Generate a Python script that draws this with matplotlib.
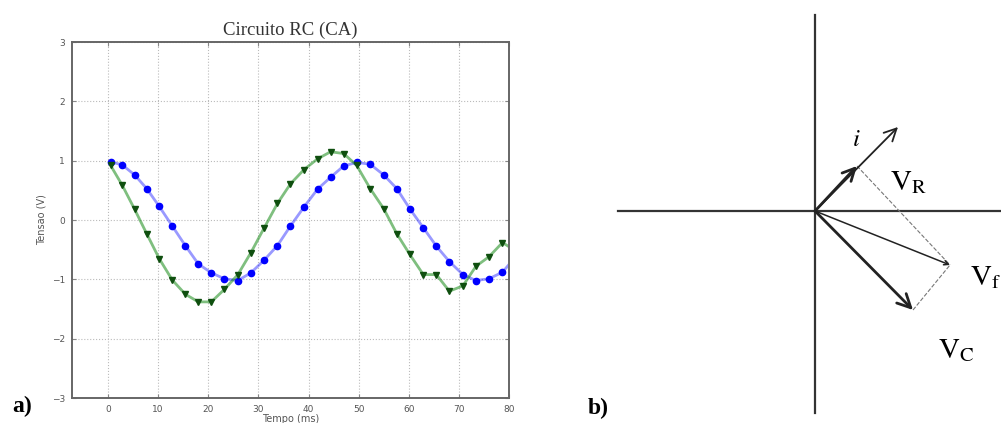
import matplotlib.pyplot as plt

plt.rcParams['mathtext.fontset'] = 'stix'

# sampled times (ms)
tempo = [0.5, 2.8, 5.3, 7.7, 10.2, 12.8, 15.4, 18.0, 20.6, 23.2, 25.9, 28.5, 31.1,
         33.8, 36.4, 39.1, 41.8, 44.4, 47.0, 49.6, 52.3, 55.0, 57.6, 60.2, 62.9,
         65.5, 68.1, 70.8, 73.4, 76.0, 78.7, 81.3]
# fonte voltage (circles)
v_azul = [0.98, 0.93, 0.76, 0.53, 0.23, -0.10, -0.43, -0.74, -0.89, -0.99, -1.02,
          -0.89, -0.68, -0.43, -0.10, 0.22, 0.52, 0.72, 0.91, 0.97, 0.94, 0.76,
          0.53, 0.19, -0.13, -0.44, -0.70, -0.92, -1.02, -0.99, -0.88, -0.62]
# capacitor voltage (triangles)
v_verde = [0.92, 0.59, 0.18, -0.23, -0.65, -1.01, -1.25, -1.38, -1.38, -1.17, -0.92,
           -0.55, -0.14, 0.28, 0.61, 0.85, 1.03, 1.15, 1.12, 0.92, 0.53, 0.19,
           -0.23, -0.58, -0.92, -0.92, -1.20, -1.11, -0.78, -0.62, -0.38, -0.52]

xticks = [0, 10, 20, 30, 40, 50, 60, 70, 80]
yticks = [-3, -2, -1, 0, 1, 2, 3]

# phasors (x, y) for the diagram
fasor_i = (0.83, 0.84)
fasor_vr = (0.42, 0.45)
fasor_vf = (1.35, -0.54)
fasor_vc = (0.98, -0.99)

fig = plt.figure(figsize=(10.01, 4.23), dpi=100)

# ---- a) time plot
ax = fig.add_axes([72 / 1001, 25 / 423, 437 / 1001, 356 / 423])
ax.plot(tempo, v_azul, color='blue', alpha=0.4, lw=2)
ax.plot(tempo, v_azul, 'o', color='blue', ms=4.5, mec='blue')
ax.plot(tempo, v_verde, color='green', alpha=0.5, lw=2)
ax.plot(tempo, v_verde, 'v', color='#0f4f0f', ms=4.5, mec='#0f4f0f')
ax.set_xlim(-7.2, 80)
ax.set_ylim(-3, 3)
ax.set_xticks(xticks)
ax.set_yticks(yticks)
ax.tick_params(labelsize=6.5, labelcolor='#555555', direction='in', length=3,
               color='#888888', top=True, right=True, pad=5)
ax.grid(True, ls=':', color='#bbbbbb', lw=0.8)
for s in ax.spines.values():
    s.set_color('#666666')
    s.set_linewidth(1.4)
ax.set_title('Circuito RC (CA)', family='Liberation Serif', fontsize=13.5, pad=5,
             color='#333333')
ax.set_ylabel('Tensao (V)', fontsize=7, color='#555555', labelpad=4)
ax.set_xlabel('Tempo (ms)', fontsize=7, color='#555555', labelpad=0)

fig.text(12 / 1001, 1 - 412 / 423, 'a)', family='Liberation Serif',
         fontsize=17, fontweight='bold', va='baseline')
fig.text(588 / 1001, 1 - 414 / 423, 'b)', family='Liberation Serif',
         fontsize=17, fontweight='bold', va='baseline')

# ---- b) phasor diagram (100 px per unit, origin at pixel 815, 211)
bx = fig.add_axes([600 / 1001, 0, 401 / 1001, 1])
bx.set_xlim((600 - 815) / 100, (1001 - 815) / 100)
bx.set_ylim((211 - 423) / 100, 211 / 100)
bx.axis('off')

bx.plot([-1.97, 1.9], [0, 0], color='#333333', lw=1.6)
bx.plot([0, 0], [-2.02, 1.96], color='#333333', lw=1.6)


def seta(v, lw, ms):
    bx.annotate('', xy=v, xytext=(0, 0),
                arrowprops=dict(arrowstyle='->', lw=lw, color='#222222',
                                mutation_scale=ms, shrinkA=0, shrinkB=0))


seta(fasor_i, 1.3, 22)
seta(fasor_vr, 2.0, 22)
seta(fasor_vf, 1.1, 8)
seta(fasor_vc, 2.0, 24)

bx.plot([fasor_vr[0], fasor_vf[0]], [fasor_vr[1], fasor_vf[1]], ls='--',
        color='#777777', lw=0.8)
bx.plot([fasor_vc[0], fasor_vf[0]], [fasor_vc[1], fasor_vf[1]], ls='--',
        color='#777777', lw=0.8)

bx.text(0.41, 0.72, r'$i$', fontsize=18, ha='center', va='center')
bx.text(0.75, 0.29, r'$\mathrm{V_R}$', fontsize=21, ha='left', va='center')
bx.text(1.55, -0.66, r'$\mathrm{V_f}$', fontsize=21, ha='left', va='center')
bx.text(1.23, -1.39, r'$\mathrm{V_C}$', fontsize=21, ha='left', va='center')

fig.savefig('out.png', dpi=100)
